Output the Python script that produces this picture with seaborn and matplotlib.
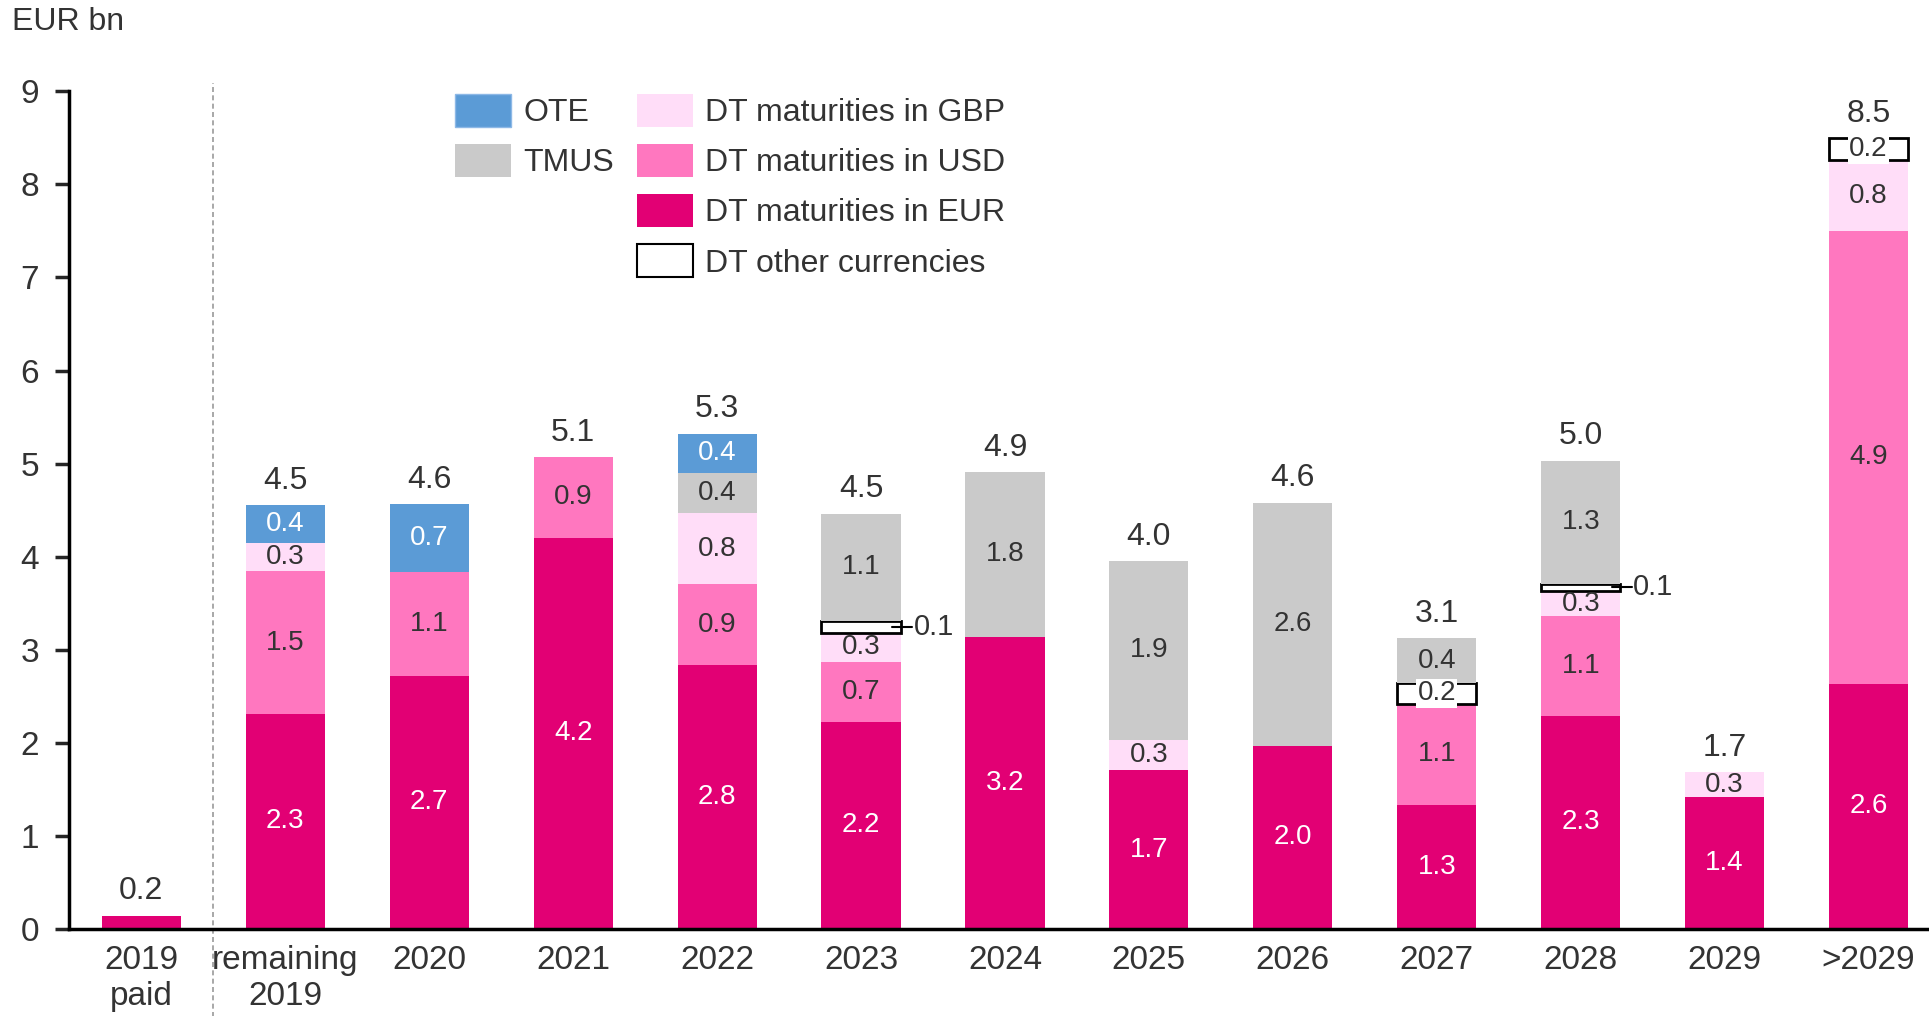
import numpy as np
import matplotlib.pyplot as plt
import matplotlib.patches as mpatches
import seaborn as sns

# Kategorien und Werte (EUR bn), von unten nach oben gestapelt
cats = ['2019\npaid', 'remaining\n2019', '2020', '2021', '2022', '2023', '2024',
        '2025', '2026', '2027', '2028', '2029', '>2029']
eur = [0.14, 2.31, 2.72, 4.20, 2.83, 2.22, 3.14, 1.70, 1.96, 1.33, 2.29, 1.41, 2.63]
usd = [0, 1.53, 1.11, 0.87, 0.87, 0.65, 0, 0, 0, 1.09, 1.07, 0, 4.87]
gbp = [0, 0.31, 0, 0, 0.77, 0.31, 0, 0.33, 0, 0, 0.27, 0.27, 0.76]
other = [0, 0, 0, 0, 0, 0.13, 0, 0, 0, 0.22, 0.08, 0, 0.24]
tmus = [0, 0, 0, 0, 0.43, 1.15, 1.77, 1.92, 2.62, 0.48, 1.32, 0, 0]
ote = [0, 0.40, 0.73, 0, 0.42, 0, 0, 0, 0, 0, 0, 0, 0]

# Beschriftungen
eur_lbl = ['', '2.3', '2.7', '4.2', '2.8', '2.2', '3.2', '1.7', '2.0', '1.3', '2.3', '1.4', '2.6']
usd_lbl = ['', '1.5', '1.1', '0.9', '0.9', '0.7', '', '', '', '1.1', '1.1', '', '4.9']
gbp_lbl = ['', '0.3', '', '', '0.8', '0.3', '', '0.3', '', '', '0.3', '0.3', '0.8']
other_lbl = ['', '', '', '', '', '0.1', '', '', '', '0.2', '0.1', '', '0.2']
tmus_lbl = ['', '', '', '', '0.4', '1.1', '1.8', '1.9', '2.6', '0.4', '1.3', '', '']
ote_lbl = ['', '0.4', '0.7', '', '0.4', '', '', '', '', '', '', '', '']
total_lbl = ['0.2', '4.5', '4.6', '5.1', '5.3', '4.5', '4.9', '4.0', '4.6', '3.1', '5.0', '1.7', '8.5']

c_eur = '#E20074'
c_usd = '#FF77BF'
c_gbp = '#FFDDF8'
c_tmus = '#CACACA'
c_ote = '#5B9BD6'
txt = '#333333'

sns.set_style("white")
plt.rcParams['font.family'] = ['Liberation Sans', 'DejaVu Sans']

fig = plt.figure(figsize=(19.29, 10.16), dpi=100)
ax = fig.add_axes([0.036, 0.086, 0.964, 0.824])

layers = [
    (eur, eur_lbl, c_eur, 'none', 'white'),
    (usd, usd_lbl, c_usd, 'none', txt),
    (gbp, gbp_lbl, c_gbp, 'none', txt),
    (other, other_lbl, 'white', 'black', txt),
    (tmus, tmus_lbl, c_tmus, 'none', txt),
    (ote, ote_lbl, c_ote, 'none', 'white'),
]

w = 0.55
seg_fs = 20
bottom = np.zeros(len(cats))
for vals, lbls, col, ec, tc in layers:
    vals = np.array(vals, dtype=float)
    n_before = len(ax.patches)
    sns.barplot(x=cats, y=vals, bottom=bottom, color=col, width=w,
                edgecolor=ec, linewidth=2 if ec != 'none' else 0,
                order=cats, ax=ax, saturation=1)
    # leere Segmente ausblenden (sonst Randlinien)
    for p in ax.patches[n_before:]:
        if p.get_height() == 0:
            p.set_visible(False)
    for i, (v, l) in enumerate(zip(vals, lbls)):
        if not l:
            continue
        yc = bottom[i] + v / 2
        if col == 'white' and v < 0.15:
            # kleiner Wert: Linie nach rechts mit Beschriftung
            ax.plot([i + w / 2 - 0.06, i + w / 2 + 0.08], [yc, yc], color='black', lw=1.5)
            ax.text(i + w / 2 + 0.09, yc, l, ha='left', va='center', fontsize=seg_fs + 1,
                    color=txt)
        elif col == 'white':
            ax.text(i, yc, l, ha='center', va='center', fontsize=seg_fs, color=txt,
                    bbox=dict(facecolor='white', edgecolor='none', pad=1))
        else:
            ax.text(i, yc, l, ha='center', va='center', fontsize=seg_fs, color=tc)
    bottom = bottom + vals

for i, l in enumerate(total_lbl):
    ax.text(i, bottom[i] + 0.1, l, ha='center', va='bottom', fontsize=23, color=txt)

ax.set_xlim(-0.5, 12.42)
ax.set_ylim(0, 9)
ax.set_yticks(range(0, 10))
ax.set_xlabel('')
sns.despine(ax=ax, top=True, right=True)
for s in ['left', 'bottom']:
    ax.spines[s].set_linewidth(2.5)
    ax.spines[s].set_color('black')
ax.tick_params(axis='y', direction='out', length=10, width=2.5, labelsize=24,
               labelcolor=txt, pad=12, left=True)
ax.tick_params(axis='x', length=0, labelsize=24, labelcolor=txt, pad=12)
for t in ax.get_xticklabels():
    t.set_linespacing(1.2)

# Trennlinie zwischen "2019 paid" und Rest
ax.axvline(0.5, ymin=-0.12, ymax=1.01, color='#999999', lw=1.2, ls=(0, (3, 2)),
           clip_on=False)

fig.text(0.006, 0.978, 'EUR bn', fontsize=23, color=txt, ha='left', va='center')

# Legende: links OTE/TMUS, rechts DT-Waehrungen
blank = mpatches.Patch(visible=False)
handles = [
    mpatches.Patch(facecolor=c_ote, edgecolor='#8DB8E6'),
    mpatches.Patch(facecolor=c_tmus, edgecolor='none'),
    blank, blank,
    mpatches.Patch(facecolor=c_gbp, edgecolor='none'),
    mpatches.Patch(facecolor=c_usd, edgecolor='none'),
    mpatches.Patch(facecolor=c_eur, edgecolor='none'),
    mpatches.Patch(facecolor='white', edgecolor='black', linewidth=1.5),
]
labels = ['OTE', 'TMUS', '', '', 'DT maturities in GBP', 'DT maturities in USD',
          'DT maturities in EUR', 'DT other currencies']
fig.legend(handles, labels, ncol=2, loc='upper left',
           bbox_to_anchor=(455 / 1929, 1 - 94 / 1016), frameon=False,
           fontsize=23, handlelength=1.75, handleheight=1.2, labelspacing=0.5,
           columnspacing=0.7, handletextpad=0.4, borderpad=0, borderaxespad=0,
           labelcolor=txt)

plt.savefig('out.png', dpi=100)
plt.close()
